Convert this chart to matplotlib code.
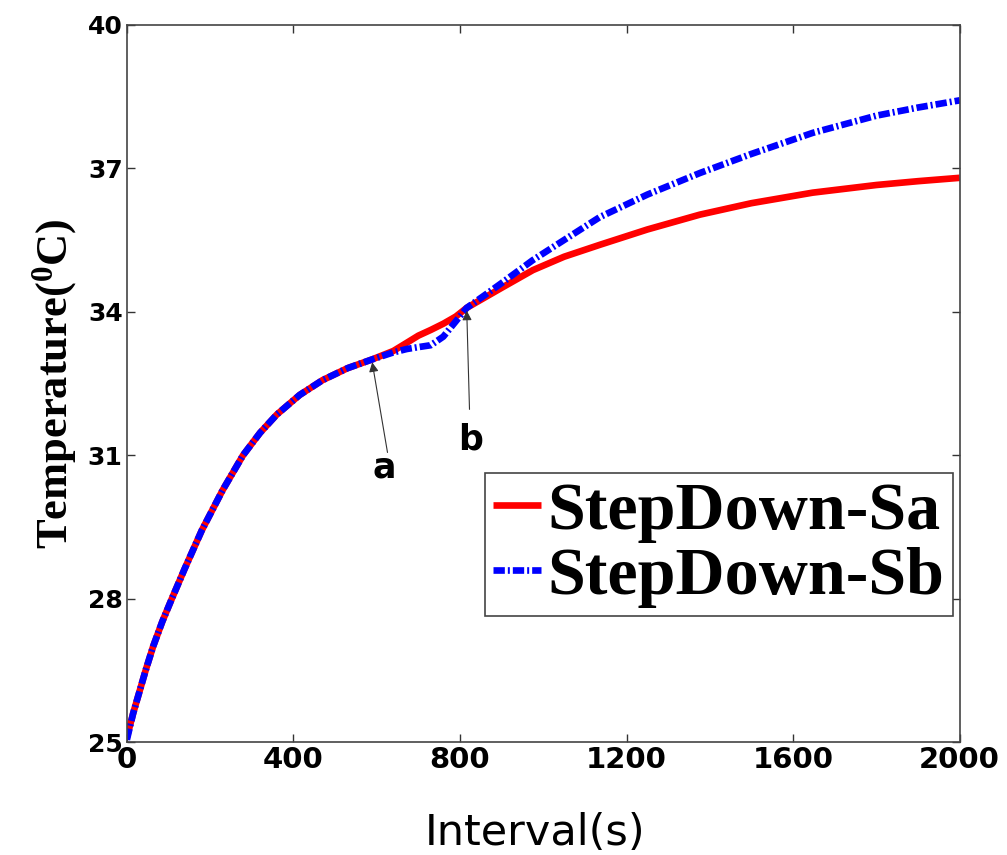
import matplotlib
matplotlib.use("Agg")
import matplotlib.pyplot as plt

t = [0, 15, 30, 45, 63, 85, 108, 140, 180, 230, 279, 320, 360, 415, 470, 530,
     588, 640, 672, 700, 730, 760, 790, 816, 860, 900, 975, 1050, 1136, 1250,
     1376, 1500, 1647, 1800, 1900, 2000]
sa = [25.1, 25.6, 26.05, 26.5, 27.0, 27.52, 28.0, 28.65, 29.43, 30.27, 31.0,
      31.47, 31.85, 32.26, 32.57, 32.82, 33.0, 33.18, 33.35, 33.5, 33.62,
      33.75, 33.9, 34.08, 34.3, 34.5, 34.87, 35.15, 35.4, 35.72, 36.03, 36.27,
      36.49, 36.65, 36.73, 36.8]
sb = [25.05, 25.6, 26.05, 26.5, 27.0, 27.52, 28.0, 28.65, 29.43, 30.27, 31.0,
      31.47, 31.85, 32.26, 32.57, 32.82, 33.0, 33.15, 33.22, 33.26, 33.3,
      33.48, 33.8, 34.08, 34.35, 34.6, 35.08, 35.5, 35.98, 36.45, 36.9, 37.3,
      37.74, 38.1, 38.27, 38.42]

xticks = [0, 400, 800, 1200, 1600, 2000]
yticks = [25, 28, 31, 34, 37, 40]

plt.rcParams['mathtext.fontset'] = 'custom'
plt.rcParams['mathtext.bf'] = 'Liberation Serif:bold'
plt.rcParams['mathtext.rm'] = 'Liberation Serif'

fig = plt.figure(figsize=(10.07, 8.55), dpi=100)
ax = fig.add_axes([0.126, 0.132, 0.827, 0.839])

ax.plot(t, sa, color='#ff0000', lw=4.8, solid_capstyle='butt', label='StepDown-Sa')
ax.plot(t, sb, color='#0000ff', lw=4.8, dashes=[1.7, 0.45, 0.3, 0.45],
        dash_capstyle='butt', label='StepDown-Sb')

ax.set_xlim(0, 2000)
ax.set_ylim(25, 40)
ax.set_xticks(xticks)
ax.set_yticks(yticks)
ax.tick_params(direction='in', length=6, width=1, top=True, right=True,
               colors='#333333', pad=3)
for lab in ax.get_xticklabels():
    lab.set_fontfamily('DejaVu Sans')
    lab.set_fontweight('bold')
    lab.set_fontsize(21)
    lab.set_color('black')
for lab in ax.get_yticklabels():
    lab.set_fontfamily('DejaVu Sans')
    lab.set_fontweight('bold')
    lab.set_fontsize(18)
    lab.set_color('black')
for s in ax.spines.values():
    s.set_color('#444444')
    s.set_linewidth(1.2)

ax.set_xlabel('Interval(s)', fontfamily='DejaVu Sans', fontsize=31)
ax.xaxis.set_label_coords(0.49, -0.098)
ax.set_ylabel(r'Temperature($\mathbf{^{0}}$C)', fontfamily='Liberation Serif',
              fontweight='bold', fontsize=32)
ax.yaxis.set_label_coords(-0.058, 0.5)

arrow = dict(arrowstyle='-|>', color='#333333', lw=0.8, mutation_scale=14)
ax.annotate('', xy=(588, 33.0), xytext=(627, 31.0), arrowprops=arrow)
ax.annotate('', xy=(816, 34.08), xytext=(823, 31.9), arrowprops=arrow)
ax.text(619, 30.75, 'a', fontfamily='DejaVu Sans', fontweight='bold', fontsize=25,
        ha='center', va='center')
ax.text(826, 31.32, 'b', fontfamily='DejaVu Sans', fontweight='bold', fontsize=25,
        ha='center', va='center')

leg = fig.legend(loc='upper left', bbox_to_anchor=(485 / 1007, 1 - 473 / 855),
                 prop={'family': 'Liberation Serif', 'weight': 'bold', 'size': 49},
                 handlelength=0.7, handletextpad=0.1, borderpad=0.12,
                 labelspacing=0.05, borderaxespad=0, fancybox=False,
                 framealpha=1, edgecolor='#444444')
leg.get_frame().set_linewidth(1.2)

fig.savefig('out.png', dpi=100, facecolor='white')
